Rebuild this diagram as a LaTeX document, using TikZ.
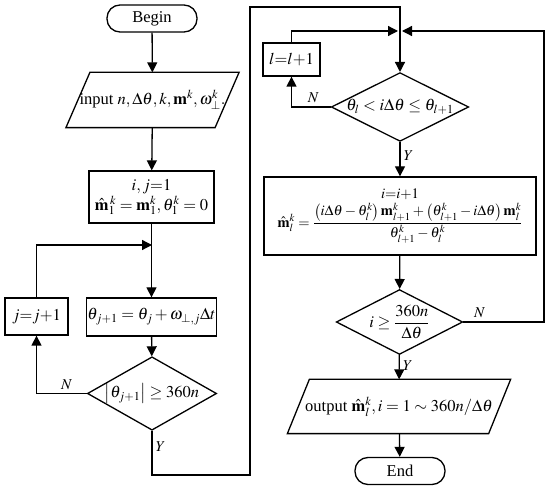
\documentclass[tikz,border=0pt]{standalone}
\usepackage{amsmath}
\usepackage{mathptmx}
\usepackage{fontspec}
\setmainfont{Liberation Serif}
\usetikzlibrary{arrows.meta, shapes.geometric}

\begin{document}
\begin{tikzpicture}[x=1pt, y=-1pt, line width=1.3pt,
  font=\fontsize{16.5}{19}\selectfont,
  term/.style={draw, rounded corners=13pt, minimum width=90pt, minimum height=27pt},
  proc/.style={draw, align=center, inner sep=1pt},
  io/.style={align=center, inner sep=1pt},
  cond/.style={draw, diamond, inner sep=0pt},
  arr/.style={-{Triangle[length=10pt, width=10pt]}},
  lbl/.style={font=\fontsize{15}{18}\selectfont\itshape}]
  \useasboundingbox (0,0) rectangle (550,489);
  % left column
  \node[term] (begin) at (152,18.5) {Begin};
  \node[io, minimum width=145pt, minimum height=54pt] (input) at (152.5,100)
    {input $n,\Delta\theta,k,\mathbf{m}^k,\omega_{\perp}^k.$};
  \node[proc, minimum width=125pt, minimum height=52pt] (init) at (151.5,197)
    {$i,j{=}1$\\[1pt] $\hat{\mathbf{m}}_1^{\,k}=\mathbf{m}_1^k,\theta_1^k=0$};
  \node[proc, minimum width=125pt, minimum height=38pt] (theta) at (151.5,317)
    {$\theta_{j+1}=\theta_j+\omega_{\perp,j}\Delta t$};
  \node[cond, minimum width=125pt, minimum height=71pt, aspect=1.76] (chk) at (152,393.5)
    {$\left|\theta_{j+1}\right|\geq 360n$};
  \node[proc, minimum width=63pt, minimum height=37pt] (incj) at (36.5,316.5) {$j{=}j{+}1$};
  % right column
  \node[cond, minimum width=126pt, minimum height=62pt, aspect=2] (find) at (400,107)
    {$\theta_l<i\Delta\theta\leq\theta_{l+1}$};
  \node[proc, minimum width=57pt, minimum height=33pt] (incl) at (291.5,59.5) {$l{=}l{+}1$};
  \node[proc, minimum width=272pt, minimum height=78pt,
        font=\fontsize{14.5}{17}\selectfont] (interp) at (400,216)
    {$i{=}i{+}1$\\[3pt]
     $\hat{\mathbf{m}}_l^k=\dfrac{\left(i\Delta\theta-\theta_l^k\right)\mathbf{m}_{l+1}^k
       +\left(\theta_{l+1}^k-i\Delta\theta\right)\mathbf{m}_l^k}{\theta_{l+1}^k-\theta_l^k}$};
  \node[cond, minimum width=117pt, minimum height=60pt, aspect=1.95] (stop) at (399.5,322)
    {$i\geq\dfrac{360n}{\Delta\theta}$};
  \node[io, minimum width=200pt, minimum height=53pt] (output) at (399,406.5)
    {output $\hat{\mathbf{m}}_l^k,i=1\sim 360n/\Delta\theta$};
  \node[term] (end) at (400,471) {End};
  \coordinate (jjoin) at (152,245);
  \coordinate (ljoin) at (400,31);
  % slanted borders of the two data boxes
  \foreach \n/\s in {input/12, output/11}
    \draw ([xshift=\s pt]\n.north west) -- ([xshift=\s pt]\n.north east)
      -- ([xshift=-\s pt]\n.south east) -- ([xshift=-\s pt]\n.south west) -- cycle;
  % connectors
  \draw[arr] (begin) -- (input);
  \draw[arr] (input) -- (init);
  \draw[arr] (init) -- (theta);
  \draw[arr] (theta) -- (chk);
  \draw[arr] (chk.west) -| node[lbl, above, pos=0.2]{$N$} (incj.south);
  \draw[arr] (incj.north) |- (jjoin);
  \draw[arr] (chk.south) -- node[lbl, right, pos=0.35]{$Y$} (152,475) -- (250,475)
    -- (250,7) -| (find.north);
  \draw[arr] (find.west) -| node[lbl, above, pos=0.22]{$N$} (incl.south);
  \draw[arr, shorten >=2pt] (incl.north) |- (ljoin);
  \draw[arr] (find) -- node[lbl, right, pos=0.4]{$Y$} (interp);
  \draw[arr] (interp) -- (stop);
  \draw[arr, shorten >=2pt] (stop.east) -- node[lbl, above, pos=0.2]{$N$} (544,322) |- (ljoin);
  \draw[arr] (stop) -- node[lbl, right, pos=0.45]{$Y$} (output);
  \draw[arr] (output) -- (end);
\end{tikzpicture}
\end{document}
